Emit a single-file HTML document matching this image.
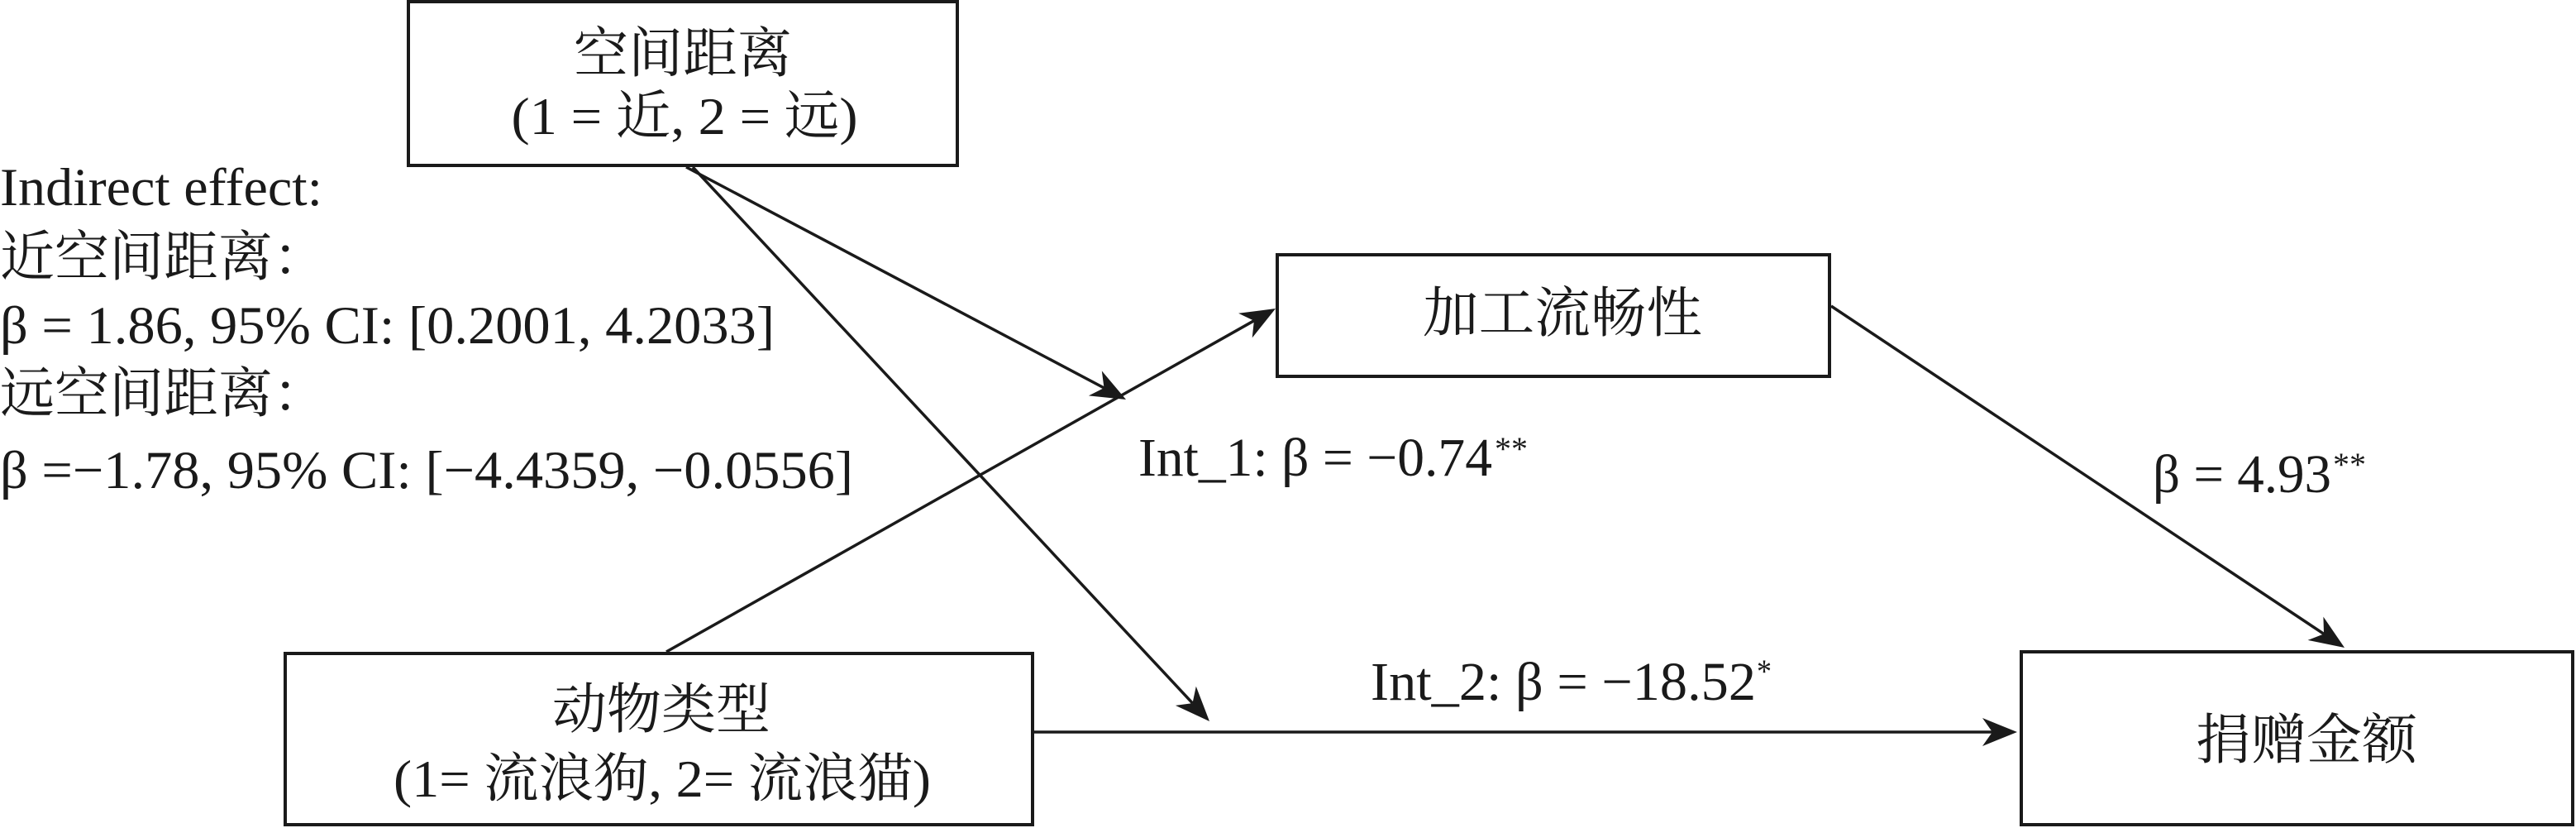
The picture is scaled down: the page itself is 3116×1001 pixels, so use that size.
<!DOCTYPE html>
<html>
<head>
<meta charset="utf-8">
<style>
  html, body { margin: 0; padding: 0; background: #ffffff; }
  body { width: 3116px; height: 1001px; overflow: hidden; }
  svg { display: block; }
  text { font-family: "Liberation Serif", "Noto Serif CJK SC", "Noto Sans CJK SC", serif; fill: #1a1a1a; }
</style>
</head>
<body>
<svg width="3116" height="1001" viewBox="0 0 3116 1001" xmlns="http://www.w3.org/2000/svg">
  <rect x="0" y="0" width="3116" height="1001" fill="#ffffff"/>

  <!-- Boxes -->
  <g fill="none" stroke="#1a1a1a" stroke-width="4">
    <rect x="494" y="2" width="664" height="198"/>
    <rect x="1545" y="308" width="668" height="147"/>
    <rect x="345" y="790" width="904" height="207"/>
    <rect x="2445" y="788" width="667" height="209"/>
  </g>

  <!-- Connector lines -->
  <g stroke="#1a1a1a" stroke-width="3.5" fill="none">
    <line x1="830" y1="202" x2="1335.5" y2="469"/>
    <line x1="838" y1="202" x2="1442.5" y2="850.1"/>
    <line x1="806" y1="788" x2="1516.9" y2="387.7"/>
    <line x1="2215" y1="370" x2="2811" y2="766.4"/>
    <line x1="1251" y1="885" x2="2412" y2="885"/>
  </g>

  <!-- Arrowheads -->
  <g fill="#1a1a1a" stroke="none">
    <polygon points="1362,483 1316.9,478.4 1335.5,469 1332.8,448.4"/>
    <polygon points="1463,872 1421.9,852.9 1442.5,850.1 1446.8,829.7"/>
    <polygon points="1543,373 1514.7,408.4 1516.9,387.7 1498.1,378.8"/>
    <polygon points="2836,783 2791.6,773.9 2811,766.4 2810.4,745.6"/>
    <polygon points="2440,885 2398,868 2410,885 2398,902"/>
  </g>

  <!-- Top box text -->
  <text x="826" y="87" font-size="66" text-anchor="middle" textLength="264" lengthAdjust="spacingAndGlyphs">空间距离</text>
  <text x="828" y="162" font-size="64" text-anchor="middle" textLength="419" lengthAdjust="spacingAndGlyphs">(1 = 近, 2 = 远)</text>

  <!-- Left indirect effect text -->
  <text x="0" y="248" font-size="65" textLength="390" lengthAdjust="spacingAndGlyphs">Indirect effect:</text>
  <text x="0" y="333" font-size="66" textLength="396" lengthAdjust="spacingAndGlyphs">近空间距离：</text>
  <text x="0" y="415" font-size="65" textLength="937" lengthAdjust="spacingAndGlyphs">β = 1.86, 95% CI: [0.2001, 4.2033]</text>
  <text x="0" y="498" font-size="66" textLength="396" lengthAdjust="spacingAndGlyphs">远空间距离：</text>
  <text x="0" y="590" font-size="65" textLength="1032" lengthAdjust="spacingAndGlyphs">β =−1.78, 95% CI: [−4.4359, −0.0556]</text>

  <!-- Mediator box text -->
  <text x="1890" y="401" font-size="66" text-anchor="middle" textLength="338" lengthAdjust="spacingAndGlyphs">加工流畅性</text>

  <!-- Int_1 label -->
  <text x="1377" y="575" font-size="66" textLength="428" lengthAdjust="spacingAndGlyphs">Int_1: β = −0.74</text>
  <text x="1808" y="556" font-size="40" textLength="40" lengthAdjust="spacingAndGlyphs">**</text>

  <!-- b path label -->
  <text x="2604" y="595" font-size="66" textLength="216" lengthAdjust="spacingAndGlyphs">β = 4.93</text>
  <text x="2822" y="575" font-size="40" textLength="40" lengthAdjust="spacingAndGlyphs">**</text>

  <!-- Int_2 label -->
  <text x="1658" y="846" font-size="66" textLength="466" lengthAdjust="spacingAndGlyphs">Int_2: β = −18.52</text>
  <text x="2125" y="825" font-size="40" textLength="18" lengthAdjust="spacingAndGlyphs">*</text>

  <!-- Bottom-left box text -->
  <text x="800" y="880" font-size="66" text-anchor="middle" textLength="264" lengthAdjust="spacingAndGlyphs">动物类型</text>
  <text x="801" y="963" font-size="64" text-anchor="middle" textLength="650" lengthAdjust="spacingAndGlyphs">(1= 流浪狗, 2= 流浪猫)</text>

  <!-- Outcome box text -->
  <text x="2790" y="917" font-size="66" text-anchor="middle" textLength="268" lengthAdjust="spacingAndGlyphs">捐赠金额</text>
</svg>
</body>
</html>
